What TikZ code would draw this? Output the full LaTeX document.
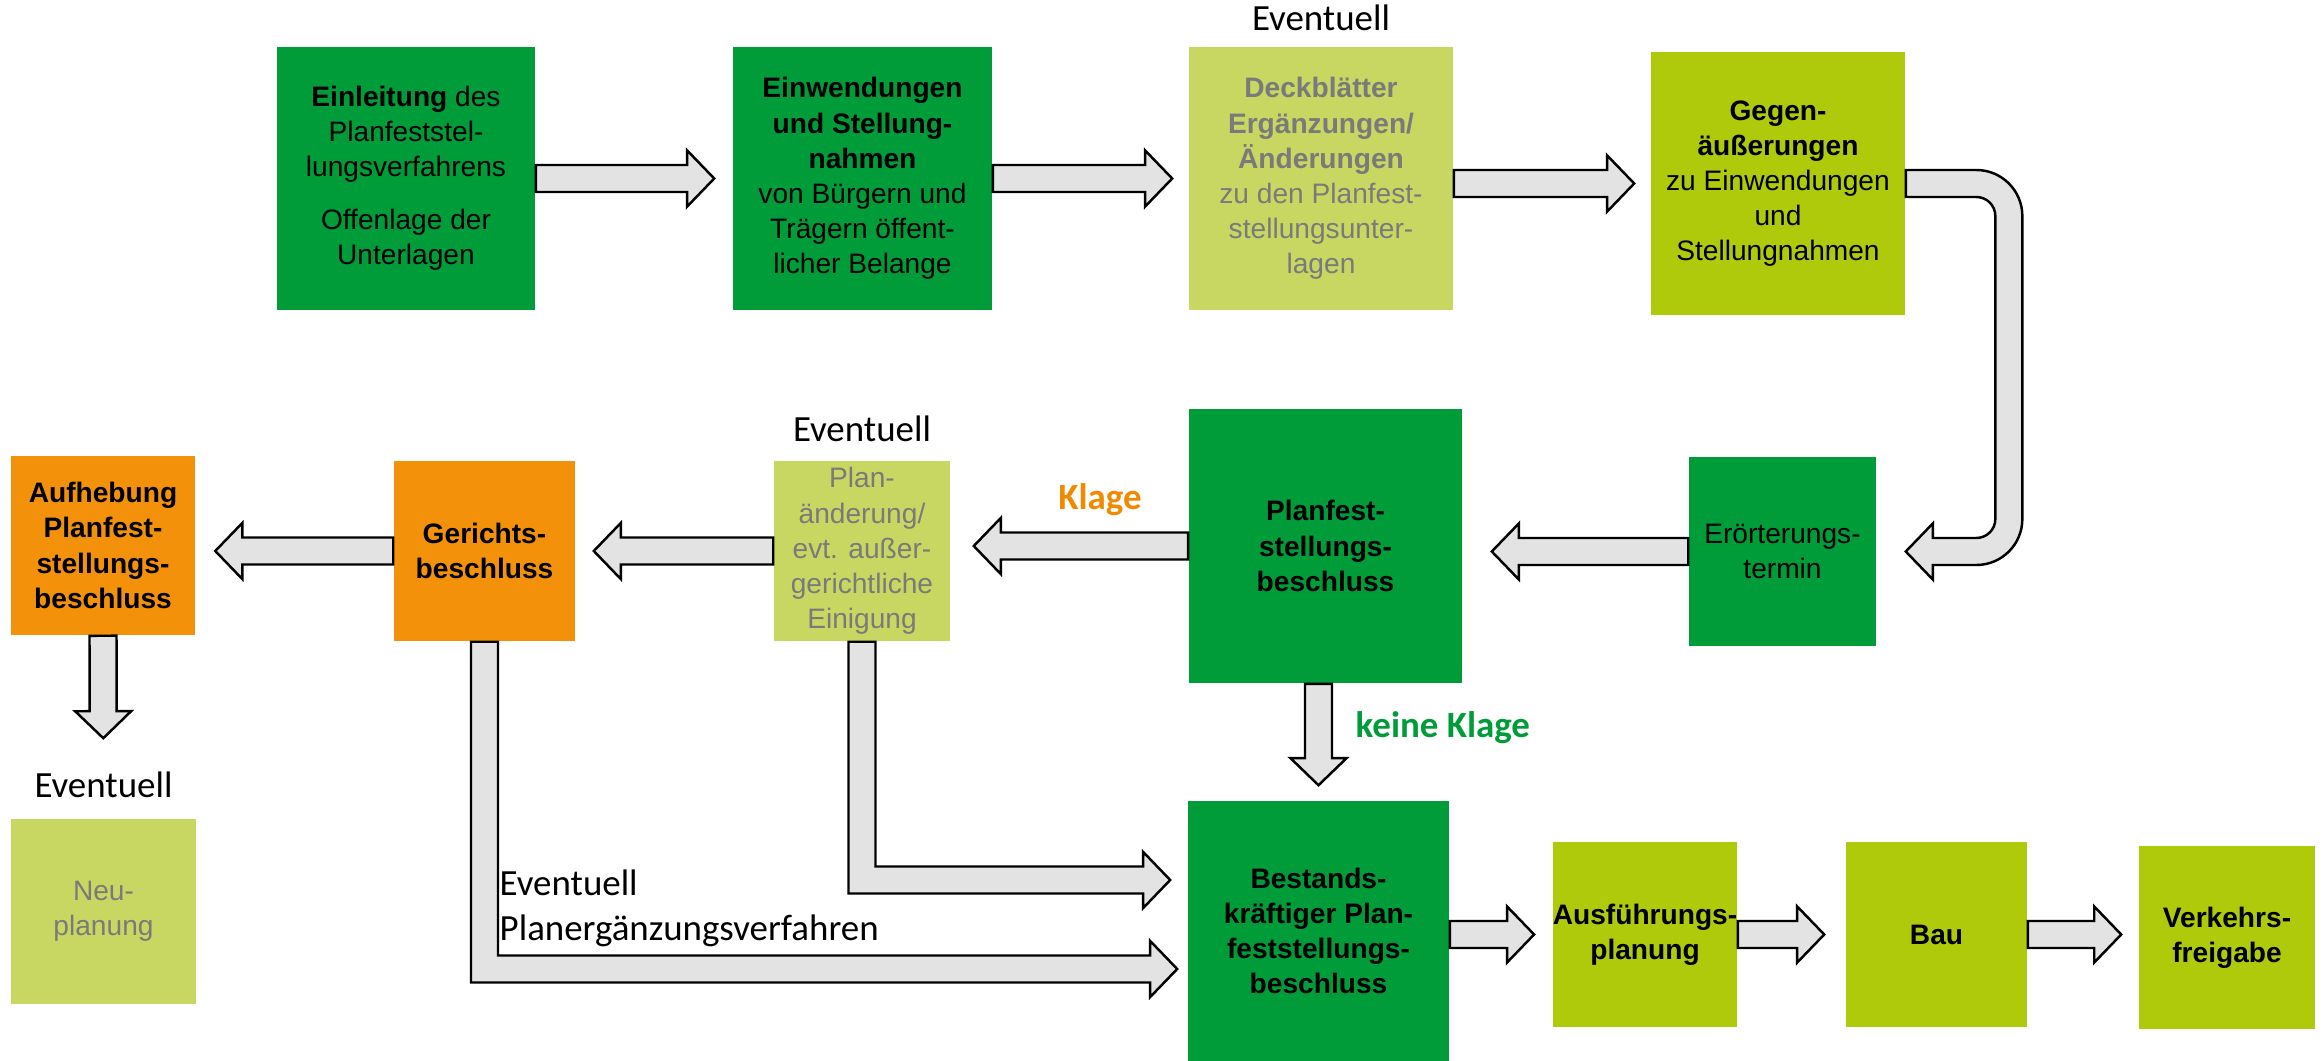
\documentclass[tikz,border=0pt]{standalone}
\usepackage{fontspec}
\setmainfont{Liberation Sans}
\newfontfamily\calibri{Carlito}
\usetikzlibrary{calc}
\usetikzlibrary{positioning}

\definecolor{dunkelgruen}{RGB}{0,156,58}
\definecolor{gelbgruen}{RGB}{175,202,11}
\definecolor{hellgruen}{RGB}{200,215,98}
\definecolor{gerichtorange}{RGB}{243,146,10}
\definecolor{pfeilgrau}{RGB}{227,227,227}
\definecolor{textgrau}{RGB}{122,122,122}
\definecolor{klageorange}{RGB}{240,138,0}
\definecolor{klagegruen}{RGB}{0,156,58}

\newcommand\shaftw{0.135cm}
\newcommand\headw{0.28cm}
\newcommand\headl{0.27cm}
\newcommand\bogenro{0.46cm}
\newcommand\bogenri{0.19cm}

\tikzset{
  tipgap/.store in=\tipgap, tipgap=0.16cm,
  stufe/.style={rectangle, inner sep=0pt, align=center, font=\fontsize{8}{10}\selectfont},
  dunkel/.style={stufe, fill=dunkelgruen, text=black},
  gelb/.style={stufe, fill=gelbgruen, text=black},
  hell/.style={stufe, fill=hellgruen, text=textgrau},
  gericht/.style={stufe, fill=gerichtorange, text=black},
  masse/.style 2 args={minimum width=#1cm, minimum height=#2cm},
  hinweis/.style={inner sep=0pt, font=\calibri\fontsize{10.5}{12.8}\selectfont},
  klagetext/.style={inner sep=0pt, font=\calibri\bfseries\fontsize{10.5}{12.6}\selectfont},
  pfeilrand/.style={draw=black, fill=pfeilgrau, line width=0.7pt, line join=miter},
  pfeil/.style={pfeilrand,
    to path={
      ($(\tikztotarget)!\tipgap!(\tikztostart)$) coordinate (p-tip)
      ($(p-tip)!\headl!(\tikztostart)$) coordinate (p-head)
      ($(\tikztostart)!\shaftw!90:(p-tip)$)
        -- ($(p-head)!\shaftw!90:(p-tip)$)
        -- ($(p-head)!\headw!90:(p-tip)$)
        -- (p-tip)
        -- ($(p-head)!\headw!-90:(p-tip)$)
        -- ($(p-head)!\shaftw!-90:(p-tip)$)
        -- ($(\tikztostart)!\shaftw!-90:(p-tip)$)
        -- cycle}},
  winkelpfeil/.style={pfeilrand,
    to path={
      let \p1=(\tikztostart), \p2=(\tikztotarget) in
      ({\x1-\shaftw},\y1) -- ({\x1-\shaftw},{\y2-\shaftw})
        -- ({\x2-\tipgap-\headl},{\y2-\shaftw}) -- ({\x2-\tipgap-\headl},{\y2-\headw})
        -- ({\x2-\tipgap},\y2)
        -- ({\x2-\tipgap-\headl},{\y2+\headw}) -- ({\x2-\tipgap-\headl},{\y2+\shaftw})
        -- ({\x1+\shaftw},{\y2+\shaftw}) -- ({\x1+\shaftw},\y1) -- cycle}},
  bogenpfeil/.style={pfeilrand,
    to path={
      let \p1=(\tikztostart), \p2=(\tikztotarget), \p3=($(\tikztostart)+(1.03cm,0)$) in
      (\x1,{\y1+\shaftw}) -- ({\x3+\shaftw-\bogenro},{\y1+\shaftw})
        arc[start angle=90, end angle=0, radius=\bogenro]
        -- ({\x3+\shaftw},{\y2-\shaftw+\bogenro})
        arc[start angle=0, end angle=-90, radius=\bogenro]
        -- ({\x2+\tipgap+\headl},{\y2-\shaftw}) -- ({\x2+\tipgap+\headl},{\y2-\headw})
        -- ({\x2+\tipgap},\y2)
        -- ({\x2+\tipgap+\headl},{\y2+\headw}) -- ({\x2+\tipgap+\headl},{\y2+\shaftw})
        -- ({\x3-\shaftw-\bogenri},{\y2+\shaftw})
        arc[start angle=-90, end angle=0, radius=\bogenri]
        -- ({\x3-\shaftw},{\y1-\shaftw-\bogenri})
        arc[start angle=0, end angle=90, radius=\bogenri]
        -- (\x1,{\y1-\shaftw}) -- cycle}}
}

\begin{document}
\begin{tikzpicture}[x=0.01cm, y=-0.01cm]

\useasboundingbox (0,0) rectangle (2323,1061);

% obere Reihe
\node[dunkel, masse={2.58}{2.63}] (einleitung) at (406,178.5) {\textbf{Einleitung} des\\Planfeststel-\\lungsverfahrens\\[5pt]Offenlage der\\Unterlagen};
\node[dunkel, masse={2.59}{2.63}] (einwendung) at (862.5,178.5) {\textbf{Einwendungen}\\\textbf{und Stellung-}\\\textbf{nahmen}\\von Bürgern und\\Trägern öffent-\\licher Belange};
\node[hell, masse={2.64}{2.63}] (deckblatt) at (1321,178.5) {\textbf{Deckblätter}\\\textbf{Ergänzungen/}\\\textbf{Änderungen}\\zu den Planfest-\\stellungsunter-\\lagen};
\node[gelb, masse={2.54}{2.63}] (gegen) at (1778,183.5) {\textbf{Gegen-}\\\textbf{äußerungen}\\zu Einwendungen\\und\\Stellungnahmen};

% mittlere Reihe
\node[dunkel, masse={1.87}{1.89}] (eroert) at (1782.5,551.5) {Erörterungs-\\termin};
\node[dunkel, masse={2.73}{2.74}] (planfest) at (1325.5,546) {\textbf{Planfest-}\\\textbf{stellungs-}\\\textbf{beschluss}};
\node[hell, masse={1.76}{1.80}] (planaend) at (862,551) {Plan-\\änderung/\\evt. außer-\\gerichtliche\\Einigung};
\node[gericht, masse={1.81}{1.80}] (gerichtsb) at (484.5,551) {\textbf{Gerichts-}\\\textbf{beschluss}};
\node[gericht, masse={1.83}{1.79}] (aufhebung) at (103,545.5) {\textbf{Aufhebung}\\\textbf{Planfest-}\\\textbf{stellungs-}\\\textbf{beschluss}};

% untere Reihe
\node[hell, masse={1.85}{1.85}] (neuplanung) at (103.5,911.5) {Neu-\\planung};
\node[dunkel, masse={2.61}{2.60}] (bestand) at (1318.5,931) {\textbf{Bestands-}\\\textbf{kräftiger Plan-}\\\textbf{feststellungs-}\\\textbf{beschluss}};
\node[gelb, masse={1.80}{1.85}] (ausfuehr) at (1645,934.5) {\textbf{Ausführungs-}\\\textbf{planung}};
\node[gelb, masse={1.81}{1.85}] (bau) at (1936.5,934.5) {\textbf{Bau}};
\node[gelb, masse={1.76}{1.83}] (freigabe) at (2227,937.5) {\textbf{Verkehrs-}\\\textbf{freigabe}};

\coordinate (bestand-o) at ($(bestand.west)+(0,-51)$);
\coordinate (bestand-u) at ($(bestand.west)+(0,38)$);

% Pfeile
\draw[pfeil, tipgap=0.18cm] (einleitung.east) to (einwendung.west);
\draw[pfeil] (einwendung.east) to (deckblatt.west);
\draw[pfeil] (deckblatt.east |- gegen.west) to (gegen.west);
\draw[bogenpfeil, tipgap=0.29cm] (gegen.east) to (eroert.east);
\draw[pfeil, tipgap=0.29cm] (eroert.west) to (eroert.west -| planfest.east);
\draw[pfeil, tipgap=0.23cm] (planfest.west) to (planfest.west -| planaend.east);
\draw[pfeil, tipgap=0.18cm] (planaend.west) to (gerichtsb.east);
\draw[pfeil, tipgap=0.20cm] (gerichtsb.west) to (gerichtsb.west -| aufhebung.east);
\draw[pfeil, tipgap=0.80cm] (aufhebung.south) to (neuplanung.north);
\draw[pfeil, tipgap=0.15cm] (bestand.north |- planfest.south) to (bestand.north);
\draw[winkelpfeil, tipgap=0.17cm] (planaend.south) to (bestand-o);
\draw[winkelpfeil, tipgap=0.10cm] (gerichtsb.south) to (bestand-u);
\draw[pfeil, tipgap=0.18cm] (bestand.east |- ausfuehr.west) to (ausfuehr.west);
\draw[pfeil, tipgap=0.21cm] (ausfuehr.east) to (bau.west);
\draw[pfeil, tipgap=0.17cm] (bau.east) to (bau.east -| freigabe.west);

% Beschriftungen
\node[hinweis, above=0.15cm of deckblatt] (ev-deck) {Eventuell};
\node[hinweis, above=0.18cm of planaend] (ev-plan) {Eventuell};
\node[hinweis, above=0.20cm of neuplanung] (ev-neu) {Eventuell};
\node[klagetext, text=klageorange, anchor=base] (klage) at (1100,510) {Klage};
\node[klagetext, text=klagegruen, anchor=base west] (keineklage) at (1355,738) {keine Klage};
\node[hinweis, align=left, anchor=north west] (ergaenzung) at (499,869) {Eventuell\\Planergänzungsverfahren};

\end{tikzpicture}
\end{document}
